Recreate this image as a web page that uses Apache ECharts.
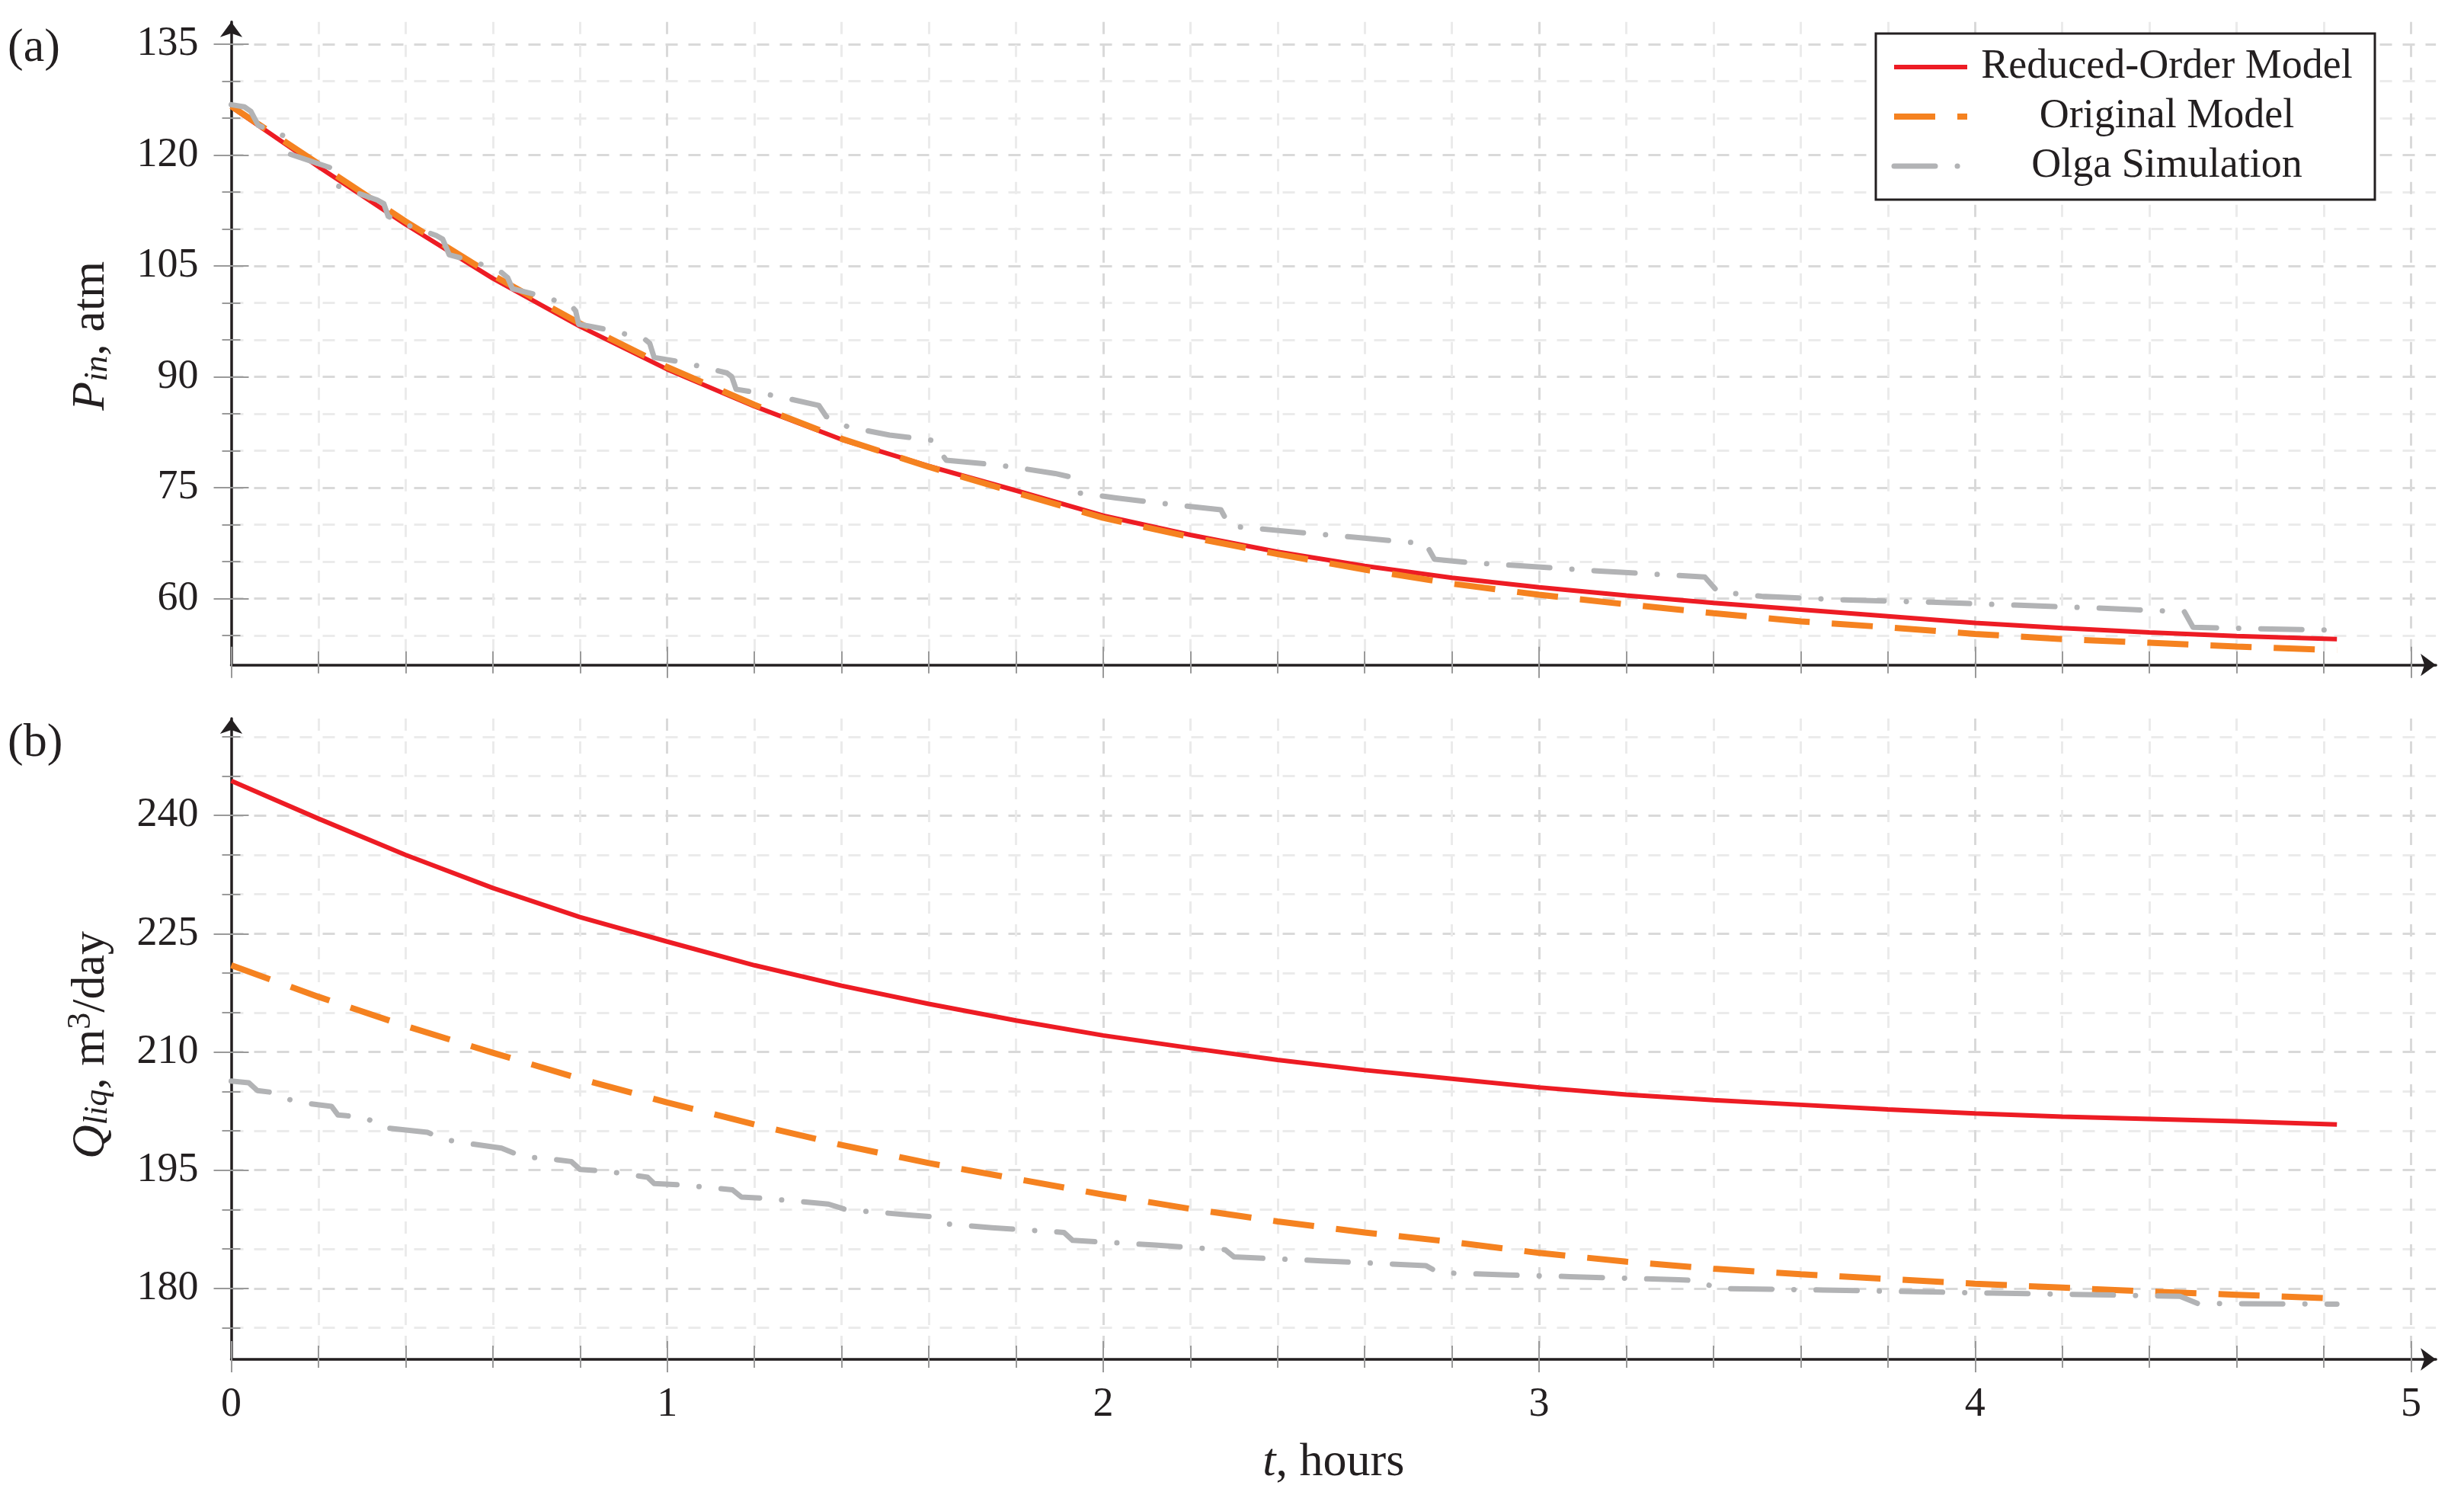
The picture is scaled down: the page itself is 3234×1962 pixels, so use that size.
<!DOCTYPE html>
<html>
<head>
<meta charset="utf-8">
<script src="https://cdn.jsdelivr.net/npm/echarts@6/dist/echarts.min.js"></script>
<style>
html,body{margin:0;padding:0;background:#ffffff;}
#c{width:3234px;height:1962px;}
</style>
</head>
<body>
<div id="c"></div>
<script>
// ---------- DATA ----------
const tModel = [0, 0.2, 0.4, 0.6, 0.8, 1.0, 1.2, 1.4, 1.6, 1.8, 2.0, 2.2, 2.4, 2.6, 2.8, 3.0, 3.2, 3.4, 3.6, 3.8, 4.0, 4.2, 4.4, 4.6, 4.83];

const pReduced = [126.5, 118.4, 110.6, 103.3, 96.8, 91.0, 86.0, 81.5, 77.9, 74.6, 71.2, 68.6, 66.3, 64.4, 62.8, 61.5, 60.4, 59.4, 58.5, 57.6, 56.7, 56.0, 55.4, 54.9, 54.5];
const pOriginal = [126.6, 118.8, 111.0, 103.7, 97.2, 91.3, 86.2, 81.6, 77.8, 74.3, 70.9, 68.3, 66.0, 63.9, 62.0, 60.5, 59.2, 58.0, 56.9, 56.1, 55.2, 54.5, 54.0, 53.5, 53.0];

const tOlgaP = [0, 0.03, 0.045, 0.062, 0.12, 0.13, 0.226, 0.24, 0.287, 0.335, 0.35, 0.36, 0.40, 0.47, 0.485, 0.50, 0.556, 0.62, 0.634, 0.645, 0.718, 0.78, 0.79, 0.797, 0.877, 0.95, 0.96, 0.97, 1.04, 1.137, 1.148, 1.158, 1.25, 1.348, 1.365, 1.415, 1.51, 1.607, 1.64, 1.73, 1.79, 1.89, 1.92, 1.94, 2.03, 2.13, 2.27, 2.29, 2.40, 2.59, 2.74, 2.76, 2.85, 2.99, 3.14, 3.38, 3.41, 3.51, 3.70, 3.90, 4.09, 4.28, 4.48, 4.50, 4.65, 4.83];
const pOlga = [126.8, 126.5, 125.9, 124.0, 122.6, 120.2, 118.3, 115.9, 114.9, 113.9, 113.4, 111.7, 110.6, 109.1, 108.6, 106.5, 105.6, 104.1, 103.4, 101.9, 100.8, 99.6, 98.9, 97.1, 96.2, 95.0, 94.5, 92.6, 91.9, 90.5, 90.0, 88.3, 87.4, 86.1, 84.6, 83.2, 82.1, 81.4, 78.7, 78.2, 77.8, 76.9, 76.5, 74.3, 73.6, 72.9, 72.0, 69.8, 69.2, 68.2, 67.4, 65.3, 64.8, 64.3, 63.7, 62.9, 60.9, 60.3, 59.8, 59.5, 59.1, 58.7, 58.2, 56.1, 55.9, 55.7];

const qReduced = [244.4, 239.6, 235.0, 230.8, 227.1, 224.0, 221.0, 218.4, 216.1, 214.0, 212.1, 210.5, 209.0, 207.7, 206.6, 205.5, 204.6, 203.9, 203.3, 202.7, 202.2, 201.8, 201.5, 201.2, 200.8];
const qOriginal = [221.0, 217.0, 213.3, 209.9, 206.6, 203.6, 200.8, 198.2, 195.9, 193.9, 191.9, 190.1, 188.5, 187.1, 185.9, 184.5, 183.4, 182.5, 181.8, 181.2, 180.6, 180.1, 179.6, 179.2, 178.7];

const tOlgaQ = [0, 0.04, 0.06, 0.09, 0.13, 0.17, 0.23, 0.245, 0.265, 0.31, 0.35, 0.45, 0.49, 0.53, 0.62, 0.67, 0.72, 0.78, 0.80, 0.857, 0.955, 0.97, 1.04, 1.15, 1.17, 1.23, 1.37, 1.41, 1.56, 1.606, 1.64, 1.745, 1.91, 1.93, 2.12, 2.28, 2.30, 2.50, 2.74, 2.77, 2.93, 3.07, 3.32, 3.36, 3.41, 3.65, 3.85, 4.04, 4.28, 4.47, 4.51, 4.83];
const qOlga = [206.3, 206.1, 205.1, 204.9, 204.0, 203.5, 203.1, 202.0, 201.9, 201.6, 200.4, 199.8, 198.9, 198.5, 197.8, 196.7, 196.5, 196.1, 195.1, 194.9, 194.1, 193.3, 193.1, 192.5, 191.6, 191.4, 190.7, 190.0, 189.3, 189.1, 188.2, 187.7, 187.1, 186.1, 185.5, 184.9, 184.0, 183.5, 182.9, 182.0, 181.7, 181.5, 181.1, 181.0, 180.0, 179.8, 179.6, 179.4, 179.2, 179.0, 178.1, 178.0];

const seriesNames = ['Reduced-Order Model', 'Original Model', 'Olga Simulation'];
const xLabelValues = [0, 1, 2, 3, 4, 5];
const pLabelValues = [60, 75, 90, 105, 120, 135];
const qLabelValues = [180, 195, 210, 225, 240];

// ---------- STYLE ----------
const FONT = '"Liberation Serif", "DejaVu Serif", serif';
const INK = '#231F20';
const RED = '#ED1C24';
const ORANGE = '#F58220';
const GRAY = '#B2B3B5';
const MAJOR_GRID = '#d9d9d9';
const MINOR_GRID = '#ebebeb';
const NONE = 'rgba(0,0,0,0)';
const TICK = '#9a9a9a';
const FS = 54;
const FS_NAME = 62;

const X_MIN = 0, X_MAX = 5.057, X_STEP = 0.2;
const P_MIN = 51, P_MAX = 138;
const Q_MIN = 171, Q_MAX = 252.3;

function pairs(ts, vs) { return ts.map((t, i) => [t, vs[i]]); }
function steps(a, b, step) {
  const out = []; const n = Math.round((b - a) / step);
  for (let i = 0; i <= n; i++) out.push(+(a + i * step).toFixed(6));
  return out;
}
const xMinor = steps(0, 5, X_STEP).filter(v => Math.abs(v - Math.round(v)) > 1e-6);
const pMinor = steps(55, 135, 5).filter(v => v % 15 !== 0);
const qMinor = steps(175, 250, 5).filter(v => v % 15 !== 0);

function xGridColors() {
  const c = []; const n = Math.round(5 / X_STEP);
  for (let i = 0; i <= n; i++) c.push(i === 0 ? NONE : (i % 5 === 0 ? MAJOR_GRID : MINOR_GRID));
  c.push(NONE);
  return c;
}
function yGridColors(min, max) {
  const c = [];
  for (let v = min; v <= max; v++) c.push(v % 15 === 0 ? MAJOR_GRID : (v % 5 === 0 ? MINOR_GRID : NONE));
  if (max > Math.floor(max)) c.push(NONE);
  return c;
}

const nameRich = {
  i: { fontFamily: FONT, fontSize: FS_NAME, fontStyle: 'italic', color: INK, lineHeight: 66, verticalAlign: 'bottom' },
  n: { fontFamily: FONT, fontSize: FS_NAME, color: INK, lineHeight: 66, verticalAlign: 'bottom' },
  s: { fontFamily: FONT, fontSize: 44, fontStyle: 'italic', color: INK, lineHeight: 33, verticalAlign: 'bottom' },
  u: { fontFamily: FONT, fontSize: 44, color: INK, lineHeight: 36, verticalAlign: 'top' }
};

function auxAxis(common, vals, inside, len) {
  return Object.assign({}, common, {
    axisLine: { show: false, onZero: false },
    axisLabel: { show: false },
    splitLine: { show: false },
    axisTick: { show: true, inside: inside, length: len, customValues: vals, lineStyle: { color: TICK, width: 2 } }
  });
}

function xAxes(gridIndex, showLabels) {
  const common = { type: 'value', gridIndex: gridIndex, min: X_MIN, max: X_MAX, position: 'bottom' };
  const main = Object.assign({}, common, {
    interval: X_STEP,
    axisLine: { show: true, onZero: false, symbol: ['none', 'arrow'], symbolSize: [22, 20], lineStyle: { color: INK, width: 3.5 } },
    axisTick: { show: false },
    axisLabel: { show: showLabels, customValues: xLabelValues, margin: 33, fontSize: FS, fontFamily: FONT, color: INK },
    splitLine: { show: true, lineStyle: { color: xGridColors(), width: 3, type: [16, 14] } }
  });
  if (showLabels) {
    main.name = '{i|t}{n|, hours}';
    main.nameLocation = 'middle';
    main.nameGap = 101;
    main.nameTextStyle = { rich: nameRich };
  }
  return [main,
    auxAxis(common, xLabelValues, false, 17), auxAxis(common, xLabelValues, true, 24),
    auxAxis(common, xMinor, false, 11), auxAxis(common, xMinor, true, 18)];
}

function yAxes(gridIndex, min, max, labels, minor, name, namePad) {
  const common = { type: 'value', gridIndex: gridIndex, min: min, max: max, position: 'left' };
  const main = Object.assign({}, common, {
    interval: 1,
    axisLine: { show: true, onZero: false, symbol: ['none', 'arrow'], symbolSize: [22, 20], lineStyle: { color: INK, width: 3.5 } },
    axisTick: { show: false },
    axisLabel: { show: true, customValues: labels, margin: 43, fontSize: FS, fontFamily: FONT, color: INK },
    splitLine: { show: true, lineStyle: { color: yGridColors(min, max), width: 3, type: [16, 14] } },
    name: name, nameLocation: 'middle', nameGap: 153, nameTextStyle: { rich: nameRich, padding: namePad }
  });
  return [main,
    auxAxis(common, labels, false, 23), auxAxis(common, labels, true, 23),
    auxAxis(common, minor, false, 12), auxAxis(common, minor, true, 12)];
}

const PX_PER_HOUR = 572.2;
const GRID_W = X_MAX * PX_PER_HOUR;

const option = {
  animation: false,
  backgroundColor: '#ffffff',
  title: [
    { text: '(a)', left: 10, top: 33, padding: 0, textStyle: { fontFamily: FONT, fontSize: FS_NAME, fontWeight: 'normal', color: INK } },
    { text: '(b)', left: 10, top: 945, padding: 0, textStyle: { fontFamily: FONT, fontSize: FS_NAME, fontWeight: 'normal', color: INK } }
  ],
  grid: [
    { left: 303.5, top: 28.7, width: GRID_W, height: 844 },
    { left: 303.5, top: 943, width: GRID_W, height: 841 }
  ],
  legend: {
    show: true, orient: 'vertical', left: 2462, top: 44,
    padding: [17, 16, 17, 20], itemGap: 11, itemWidth: 96, itemHeight: 20,
    backgroundColor: '#ffffff', borderColor: INK, borderWidth: 3, borderRadius: 0,
    selectedMode: false,
    itemStyle: { opacity: 0, borderWidth: 0 },
    formatter: n => '{c|' + n + '}',
    textStyle: {
      fontFamily: FONT, fontSize: FS, color: INK, lineHeight: 54,
      rich: { c: { width: 514, align: 'center', fontFamily: FONT, fontSize: FS, color: INK, lineHeight: 54 } }
    },
    data: [
      { name: seriesNames[0], lineStyle: { width: 6, type: 'solid' } },
      { name: seriesNames[1], lineStyle: { width: 8, type: [54, 29], cap: 'butt' } },
      { name: seriesNames[2], lineStyle: { width: 7, type: [54, 29, 0.1, 29], cap: 'round' } }
    ]
  },
  xAxis: [].concat(xAxes(0, false), xAxes(1, true)),
  yAxis: [].concat(
    yAxes(0, P_MIN, P_MAX, pLabelValues, pMinor, '{i|P}{s|in}{n|, atm}', [0, 0, 0, 20]),
    yAxes(1, Q_MIN, Q_MAX, qLabelValues, qMinor, '{i|Q}{s|liq}{n|, m}{u|3}{n|/day}', [0, 16, 0, 0])
  ),
  series: [
    { type: 'line', name: seriesNames[0], xAxisIndex: 0, yAxisIndex: 0, data: pairs(tModel, pReduced), symbol: 'none', silent: true,
      itemStyle: { color: RED }, lineStyle: { color: RED, width: 6 }, z: 2 },
    { type: 'line', name: seriesNames[1], xAxisIndex: 0, yAxisIndex: 0, data: pairs(tModel, pOriginal), symbol: 'none', silent: true,
      itemStyle: { color: ORANGE }, lineStyle: { color: ORANGE, width: 8, type: [54, 29], cap: 'butt' }, z: 3 },
    { type: 'line', name: seriesNames[2], xAxisIndex: 0, yAxisIndex: 0, data: pairs(tOlgaP, pOlga), symbol: 'none', silent: true,
      itemStyle: { color: GRAY }, lineStyle: { color: GRAY, width: 7, type: [54, 29, 0.1, 29], cap: 'round', join: 'round' }, z: 4 },
    { type: 'line', name: seriesNames[0], xAxisIndex: 5, yAxisIndex: 5, data: pairs(tModel, qReduced), symbol: 'none', silent: true,
      itemStyle: { color: RED }, lineStyle: { color: RED, width: 6 }, z: 2 },
    { type: 'line', name: seriesNames[1], xAxisIndex: 5, yAxisIndex: 5, data: pairs(tModel, qOriginal), symbol: 'none', silent: true,
      itemStyle: { color: ORANGE }, lineStyle: { color: ORANGE, width: 8, type: [54, 29], cap: 'butt' }, z: 3 },
    { type: 'line', name: seriesNames[2], xAxisIndex: 5, yAxisIndex: 5, data: pairs(tOlgaQ, qOlga), symbol: 'none', silent: true,
      itemStyle: { color: GRAY }, lineStyle: { color: GRAY, width: 7, type: [54, 29, 0.1, 29], cap: 'round', join: 'round' }, z: 4 }
  ]
};

const chart = echarts.init(document.getElementById('c'), null, { renderer: 'canvas', width: 3234, height: 1962 });
chart.setOption(option);
</script>
</body>
</html>
